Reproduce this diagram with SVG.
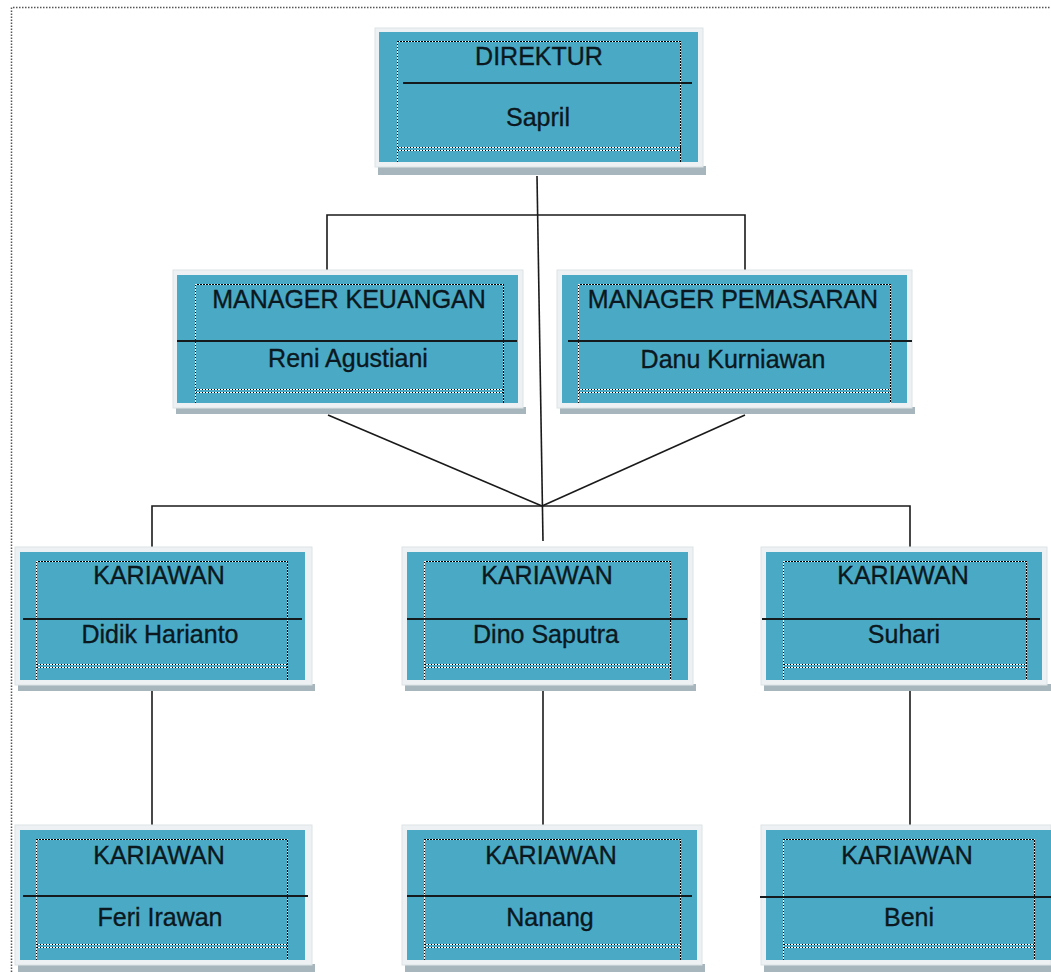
<svg xmlns="http://www.w3.org/2000/svg" width="1051" height="972" viewBox="0 0 1051 972">
<style>
.shadow{fill:#a7b6bd}
.frame{fill:#eef1f3;stroke:#dde3e6;stroke-width:1}
.blue{fill:#4aaac5}
.dw{fill:none;stroke:#ffffff;stroke-width:1.2;shape-rendering:crispEdges}
.dk{fill:none;stroke:#000000;stroke-width:1.2;stroke-dasharray:1.5 1.5;shape-rendering:crispEdges}
.div{stroke:#151a1c;stroke-width:2}
.t{font-family:"Liberation Sans",Arial,sans-serif;font-size:25px;fill:#0c1820;stroke:#0c1820;stroke-width:0.35;text-anchor:middle}
.conn{fill:none;stroke:#1a1a1a;stroke-width:1.6}
.page{fill:none;stroke:#555;stroke-width:1.5;stroke-dasharray:1.5 1.5}
</style>
<rect width="1051" height="972" fill="#ffffff"/>
<path class="page" d="M11.5 972 V7.5 H1051"/>

<g id="connectors">
<line class="conn" x1="537" y1="176" x2="543" y2="541"/>
<path class="conn" d="M327 270 V215 H745 V270"/>
<line class="conn" x1="328" y1="415" x2="542" y2="506"/>
<line class="conn" x1="745" y1="415" x2="542" y2="506"/>
<path class="conn" d="M152 548 V506 H910 V548"/>
<line class="conn" x1="152" y1="690" x2="152" y2="828"/>
<line class="conn" x1="543" y1="690" x2="543" y2="828"/>
<line class="conn" x1="910" y1="690" x2="910" y2="826"/>
</g>

<g id="direktur">
<rect class="shadow" x="378" y="166" width="328" height="9"/>
<rect class="frame" x="375" y="28" width="328" height="139"/>
<rect class="blue" x="379" y="32" width="319" height="130"/>
<path class="dw" d="M397.5 162 V41.5 H680.5 V162 M397.5 147.5 H680.5 M397.5 150.5 H680.5"/>
<path class="dk" d="M397.5 162 V41.5 H680.5 V162 M397.5 147.5 H680.5 M397.5 150.5 H680.5"/>
<line class="div" x1="403" y1="83" x2="692" y2="83"/>
<text class="t" x="539" y="65">DIREKTUR</text>
<text class="t" x="538" y="126">Sapril</text>
</g>

<g id="manager-keuangan">
<rect class="shadow" x="176" y="407" width="350" height="7"/>
<rect class="frame" x="173" y="270" width="350" height="138"/>
<rect class="blue" x="177" y="275" width="341" height="128"/>
<path class="dw" d="M195.5 403 V284.5 H503.5 V403 M195.5 389.5 H503.5 M195.5 392.5 H503.5"/>
<path class="dk" d="M195.5 403 V284.5 H503.5 V403 M195.5 389.5 H503.5 M195.5 392.5 H503.5"/>
<line class="div" x1="177" y1="341" x2="517" y2="341"/>
<text class="t" x="349" y="308">MANAGER KEUANGAN</text>
<text class="t" x="348" y="367">Reni Agustiani</text>
</g>

<g id="manager-pemasaran">
<rect class="shadow" x="560" y="407" width="355" height="7"/>
<rect class="frame" x="557" y="270" width="355" height="138"/>
<rect class="blue" x="562" y="275" width="345" height="128"/>
<path class="dw" d="M578.5 403 V284.5 H890.5 V403 M578.5 389.5 H890.5 M578.5 392.5 H890.5"/>
<path class="dk" d="M578.5 403 V284.5 H890.5 V403 M578.5 389.5 H890.5 M578.5 392.5 H890.5"/>
<line class="div" x1="568" y1="341" x2="912" y2="341"/>
<text class="t" x="733" y="308">MANAGER PEMASARAN</text>
<text class="t" x="733" y="368">Danu Kurniawan</text>
</g>

<g id="kariawan-didik">
<rect class="shadow" x="18" y="684" width="297" height="7"/>
<rect class="frame" x="15" y="547" width="297" height="138"/>
<rect class="blue" x="20" y="552" width="285" height="128"/>
<path class="dw" d="M36.5 680 V561.5 H287.5 V680 M36.5 664.5 H287.5 M36.5 667.5 H287.5"/>
<path class="dk" d="M36.5 680 V561.5 H287.5 V680 M36.5 664.5 H287.5 M36.5 667.5 H287.5"/>
<line class="div" x1="23" y1="619" x2="302" y2="619"/>
<text class="t" x="159" y="584">KARIAWAN</text>
<text class="t" x="160" y="643">Didik Harianto</text>
</g>

<g id="kariawan-dino">
<rect class="shadow" x="405" y="684" width="291" height="7"/>
<rect class="frame" x="402" y="547" width="291" height="138"/>
<rect class="blue" x="407" y="552" width="281" height="128"/>
<path class="dw" d="M424.5 680 V561.5 H670.5 V680 M424.5 664.5 H670.5 M424.5 667.5 H670.5"/>
<path class="dk" d="M424.5 680 V561.5 H670.5 V680 M424.5 664.5 H670.5 M424.5 667.5 H670.5"/>
<line class="div" x1="407" y1="619" x2="687" y2="619"/>
<text class="t" x="547" y="584">KARIAWAN</text>
<text class="t" x="546" y="643">Dino Saputra</text>
</g>

<g id="kariawan-suhari">
<rect class="shadow" x="764" y="684" width="287" height="7"/>
<rect class="frame" x="761" y="547" width="286" height="138"/>
<rect class="blue" x="766" y="552" width="276" height="128"/>
<path class="dw" d="M783.5 680 V561.5 H1026.5 V680 M783.5 664.5 H1026.5 M783.5 667.5 H1026.5"/>
<path class="dk" d="M783.5 680 V561.5 H1026.5 V680 M783.5 664.5 H1026.5 M783.5 667.5 H1026.5"/>
<line class="div" x1="762" y1="619" x2="1040" y2="619"/>
<text class="t" x="903" y="584">KARIAWAN</text>
<text class="t" x="904" y="643">Suhari</text>
</g>

<g id="kariawan-feri">
<rect class="shadow" x="18" y="964" width="297" height="8"/>
<rect class="frame" x="15" y="825" width="297" height="140"/>
<rect class="blue" x="20" y="830" width="285" height="130"/>
<path class="dw" d="M36.5 960 V839.5 H287.5 V960 M36.5 944.5 H287.5 M36.5 947.5 H287.5"/>
<path class="dk" d="M36.5 960 V839.5 H287.5 V960 M36.5 944.5 H287.5 M36.5 947.5 H287.5"/>
<line class="div" x1="23" y1="896" x2="308" y2="896"/>
<text class="t" x="159" y="864">KARIAWAN</text>
<text class="t" x="160" y="926">Feri Irawan</text>
</g>

<g id="kariawan-nanang">
<rect class="shadow" x="405" y="964" width="300" height="8"/>
<rect class="frame" x="402" y="825" width="300" height="140"/>
<rect class="blue" x="407" y="830" width="290" height="130"/>
<path class="dw" d="M424.5 960 V839.5 H680.5 V960 M424.5 944.5 H680.5 M424.5 947.5 H680.5"/>
<path class="dk" d="M424.5 960 V839.5 H680.5 V960 M424.5 944.5 H680.5 M424.5 947.5 H680.5"/>
<line class="div" x1="407" y1="896" x2="692" y2="896"/>
<text class="t" x="551" y="864">KARIAWAN</text>
<text class="t" x="550" y="926">Nanang</text>
</g>

<g id="kariawan-beni">
<rect class="shadow" x="764" y="964" width="287" height="8"/>
<rect class="frame" x="761" y="825" width="290" height="140"/>
<rect class="blue" x="766" y="830" width="285" height="130"/>
<path class="dw" d="M783.5 960 V839.5 H1034.5 V960 M783.5 944.5 H1034.5 M783.5 947.5 H1034.5"/>
<path class="dk" d="M783.5 960 V839.5 H1034.5 V960 M783.5 944.5 H1034.5 M783.5 947.5 H1034.5"/>
<line class="div" x1="760" y1="897" x2="1051" y2="897"/>
<text class="t" x="907" y="864">KARIAWAN</text>
<text class="t" x="909" y="926">Beni</text>
</g>
</svg>
